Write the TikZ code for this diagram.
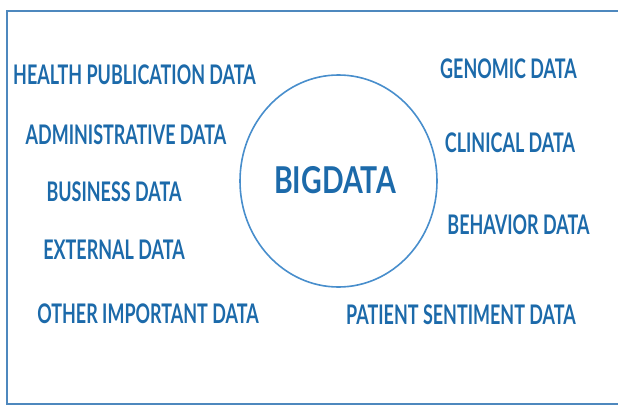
\documentclass[tikz,border=0pt]{standalone}
\usepackage{fontspec}
\setmainfont{Lato}
\newfontfamily\labelfont{Lato}[FakeStretch=0.665]
\newfontfamily\hubfont{Lato}[FakeStretch=0.77]
\usepackage{tikz}
\usetikzlibrary{shapes.geometric}

\definecolor{labelblue}{RGB}{28,106,170}
\definecolor{ringblue}{RGB}{72,142,204}
\definecolor{frameblue}{RGB}{78,136,190}

\begin{document}
\begin{tikzpicture}[x=1pt, y=-1pt,
        source/.style={text=labelblue, inner sep=0pt, font=\labelfont\bfseries\fontsize{27}{27}\selectfont},
        hub/.style={draw=ringblue, line width=1.6pt, ellipse, minimum width=197pt, minimum height=212pt, inner sep=0pt},
        hubtext/.style={text=labelblue, inner sep=0pt, font=\hubfont\bfseries\fontsize{37}{37}\selectfont},
        frame/.style={draw=frameblue, line width=2.2pt}
    ]
        \useasboundingbox (0,0) rectangle (618,407);

        \draw[frame] (625,11) -- (7,11) -- (7,404) -- (625,404);

        \node[hub] (bigdata) at (338.5,181) {};
        \node[hubtext] (bigtext) at (335,180) {BIGDATA};

        % left column
        \node[source] (health) at (134.5,74.5) {HEALTH PUBLICATION DATA};
        \node[source] (admin) at (126,135) {ADMINISTRATIVE DATA};
        \node[source] (business) at (114,192) {BUSINESS DATA};
        \node[source] (external) at (114,250) {EXTERNAL DATA};
        \node[source] (other) at (148,314) {OTHER IMPORTANT DATA};

        % right column
        \node[source] (genomic) at (508.5,69) {GENOMIC DATA};
        \node[source] (clinical) at (510,142.5) {CLINICAL DATA};
        \node[source] (behavior) at (518.5,225) {BEHAVIOR DATA};
        \node[source] (patient) at (461,315) {PATIENT SENTIMENT DATA};
    \end{tikzpicture}
\end{document}
